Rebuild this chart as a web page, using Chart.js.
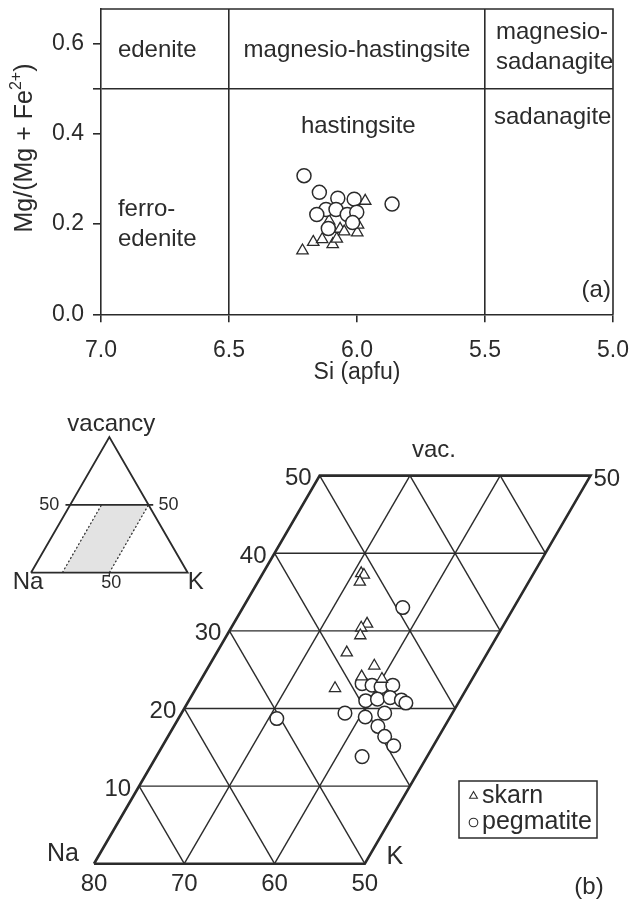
<!DOCTYPE html>
<html><head><meta charset="utf-8">
<script src="https://cdn.jsdelivr.net/npm/chart.js@4/dist/chart.umd.min.js"></script>
<style>
html,body{margin:0;padding:0;background:#fff;}
#wrap{position:relative;width:634px;height:902px;overflow:hidden;}
canvas{position:absolute;}
</style></head><body>
<div id="wrap">
<canvas id="cTop" width="634" height="400" style="left:0;top:0;width:634px;height:400px"></canvas>
<canvas id="cTern" width="634" height="502" style="left:0;top:400px;width:634px;height:502px"></canvas>
<canvas id="cInset" width="220" height="200" style="left:0;top:400px;width:220px;height:200px"></canvas>
</div>
<script>
// ---------------- DATA ----------------
// (a) Si vs Mg/(Mg+Fe2+)
const siTicks = [7.0, 6.5, 6.0, 5.5, 5.0];
const mgTicks = [0.0, 0.2, 0.4, 0.5, 0.6];
const skarnSi = [6.213, 6.171, 6.136, 6.095, 6.079, 6.066, 6.050, 5.999, 5.968, 6.109, 5.996];
const skarnMg = [0.141, 0.160, 0.166, 0.155, 0.167, 0.189, 0.183, 0.181, 0.251, 0.207, 0.198];
const pegSi   = [6.207, 6.147, 6.075, 6.011, 5.863, 6.121, 6.082, 6.157, 6.038, 6.001, 6.017, 6.112];
const pegMg   = [0.307, 0.270, 0.257, 0.255, 0.244, 0.232, 0.232, 0.221, 0.221, 0.226, 0.203, 0.190];
// (b) ternary Na - K - vacancy (K %, vacancy %)
const skarnK   = [30.9, 31.3, 31.3, 34.8, 34.4, 34.8, 34.4, 38.3, 37.6, 40.0, 35.4];
const skarnVac = [37.4, 37.2, 36.3, 30.9, 30.4, 29.4, 27.2, 25.5, 24.1, 23.8, 22.6];
const pegK     = [37.7, 38.1, 39.3, 40.4, 41.6, 39.6, 40.8, 42.1, 43.5, 44.2, 38.1, 40.6, 42.5, 42.6, 44.0, 45.6, 42.8, 30.9];
const pegVac   = [33.0, 23.2, 23.0, 22.8, 23.0, 21.0, 21.2, 21.4, 21.1, 20.7, 19.4, 18.9, 19.4, 17.7, 16.4, 15.2, 13.8, 18.7];
const naTicks  = [80, 70, 60, 50];
const vacTicks = [10, 20, 30, 40, 50];
const kRange   = [20, 50];
const vacRange = [0, 50];

// ---------------- STYLE ----------------
const FONT = '"Liberation Sans", Arial, Helvetica, sans-serif';
const INK = '#2b2b2b';
const H = Math.sqrt(3) / 2;
const tx = (k, v) => k + v / 2;
const ty = v => v * H;
const tp = (k, v) => ({ x: tx(k, v), y: ty(v) });

function txt(ctx, s, x, y, align, size) {
  ctx.font = size + 'px ' + FONT;
  ctx.fillStyle = INK;
  ctx.textAlign = align || 'center';
  ctx.textBaseline = 'middle';
  ctx.fillText(s, x, y);
}

// ---------------- (a) ----------------
const regionLabels = [
  { t: 'edenite', si: 6.934, mg: 0.585, a: 'left' },
  { t: 'magnesio-hastingsite', si: 6.0, mg: 0.585, a: 'center' },
  { t: 'magnesio-', si: 5.457, mg: 0.625, a: 'left' },
  { t: 'sadanagite', si: 5.457, mg: 0.558, a: 'left' },
  { t: 'sadanagite', si: 5.465, mg: 0.435, a: 'left' },
  { t: 'hastingsite', si: 5.995, mg: 0.415, a: 'center' },
  { t: 'ferro-', si: 6.934, mg: 0.233, a: 'left' },
  { t: 'edenite', si: 6.934, mg: 0.165, a: 'left' },
  { t: '(a)', si: 5.008, mg: 0.054, a: 'right' }
];

const topDeco = {
  id: 'topDeco',
  beforeDatasetsDraw(chart) {
    const { ctx, chartArea: ca, scales } = chart;
    ctx.save();
    ctx.strokeStyle = INK; ctx.lineWidth = 1.6;
    ctx.beginPath();
    ctx.moveTo(ca.left, ca.top); ctx.lineTo(ca.right, ca.top); ctx.lineTo(ca.right, ca.bottom);
    ctx.stroke();
    regionLabels.forEach(l => txt(ctx, l.t, scales.x.getPixelForValue(l.si), scales.y.getPixelForValue(l.mg), l.a, 24));
    // x title
    txt(ctx, 'Si (apfu)', (ca.left + ca.right) / 2, 373, 'center', 23);
    // y title with superscript
    ctx.translate(25, 148); ctx.rotate(-Math.PI / 2);
    const a = 'Mg/(Mg + Fe', b = '2+', c = ')';
    ctx.font = '25px ' + FONT; const wa = ctx.measureText(a).width; const wc = ctx.measureText(c).width;
    ctx.font = '16px ' + FONT; const wb = ctx.measureText(b).width;
    const x0 = -(wa + wb + wc) / 2;
    txt(ctx, a, x0, 0, 'left', 25);
    txt(ctx, b, x0 + wa, -8, 'left', 16);
    txt(ctx, c, x0 + wa + wb, 0, 'left', 25);
    ctx.restore();
  }
};

new Chart(document.getElementById('cTop'), {
  type: 'scatter',
  data: {
    datasets: [
      { label: 'pegmatite', data: pegSi.map((s, i) => ({ x: s, y: pegMg[i] })),
        pointStyle: 'circle', pointRadius: 7, pointBackgroundColor: '#fff', pointBorderColor: INK, pointBorderWidth: 1.5 },
      { label: 'skarn', data: skarnSi.map((s, i) => ({ x: s, y: skarnMg[i] })),
        pointStyle: 'triangle', pointRadius: 6.6, pointBackgroundColor: '#fff', pointBorderColor: INK, pointBorderWidth: 1.3 }
    ]
  },
  options: {
    responsive: false, animation: false, events: [],
    layout: { padding: { left: 0, right: 21, top: 9, bottom: 0 } },
    plugins: { legend: { display: false }, tooltip: { enabled: false } },
    scales: {
      x: {
        type: 'linear', reverse: true, min: 5, max: 7,
        afterBuildTicks: s => { s.ticks = siTicks.map(v => ({ value: v })); },
        afterFit: s => { s.height = 85.7; s.paddingLeft = 0; s.paddingRight = 0; s.paddingTop = 0; s.paddingBottom = 0; },
        ticks: { callback: v => Number(v).toFixed(1), font: { family: FONT, size: 23 }, color: INK, padding: 15, maxRotation: 0, autoSkip: false },
        grid: { color: c => (c.tick && (c.tick.value === 6.5 || c.tick.value === 5.5)) ? INK : 'rgba(0,0,0,0)', tickColor: INK, tickLength: 8, lineWidth: 1.6 },
        border: { display: true, color: INK, width: 1.6 }
      },
      y: {
        type: 'linear', min: 0, max: 0.676,
        afterBuildTicks: s => { s.ticks = mgTicks.map(v => ({ value: v })); },
        afterFit: s => { s.width = 101; s.paddingLeft = 0; s.paddingRight = 0; s.paddingTop = 0; s.paddingBottom = 0; },
        ticks: { callback: v => (v === 0.5 ? '' : Number(v).toFixed(1)), font: { family: FONT, size: 23 }, color: INK, padding: 9, autoSkip: false },
        grid: { color: c => (c.tick && c.tick.value === 0.5) ? INK : 'rgba(0,0,0,0)', tickColor: INK, tickLength: 8, lineWidth: 1.6 },
        border: { display: true, color: INK, width: 1.6 }
      }
    }
  },
  plugins: [topDeco]
});

// ---------------- (b) main ternary ----------------
const PX = 9.27;                     // px per % (layout)
const ORX = 88, ORY = 471;          // pixel of (K=20, vac=0) inside canvas
const xMinT = tx(kRange[0], 0) - ORX / PX;
const yMaxT = ORY / PX;

function lineDs(pts, w) {
  return { data: pts, showLine: true, pointRadius: 0, borderColor: INK, borderWidth: w, fill: false, tension: 0, borderJoinStyle: 'miter' };
}
const ternDs = [];
vacTicks.filter(v => v < vacRange[1]).forEach(v => ternDs.push(lineDs([tp(kRange[0], v), tp(kRange[1], v)], 1.4)));
[30, 40].forEach(k => ternDs.push(lineDs([tp(k, vacRange[0]), tp(k, vacRange[1])], 1.4)));
[70, 60, 50, 40, 30, 20, 10].forEach(n => {
  const s = 100 - n;
  const v0 = Math.max(vacRange[0], s - kRange[1]), v1 = Math.min(vacRange[1], s - kRange[0]);
  ternDs.push(lineDs([tp(s - v0, v0), tp(s - v1, v1)], 1.4));
});
ternDs.push(lineDs([tp(20, 0), tp(50, 0), tp(50, 50), tp(20, 50), tp(20, 0)], 2.6));
const ptsDs = [
  { data: skarnK.map((k, i) => tp(k, skarnVac[i])), pointStyle: 'triangle', pointRadius: 6.5,
    pointBackgroundColor: '#fff', pointBorderColor: INK, pointBorderWidth: 1.3, showLine: false },
  { data: pegK.map((k, i) => tp(k, pegVac[i])), pointStyle: 'circle', pointRadius: 6.8,
    pointBackgroundColor: '#fff', pointBorderColor: INK, pointBorderWidth: 1.5, showLine: false }
];

const ternDeco = {
  id: 'ternDeco',
  afterDatasetsDraw(chart) {
    const { ctx, scales } = chart;
    const P = (k, v) => ({ x: scales.x.getPixelForValue(tx(k, v)), y: scales.y.getPixelForValue(ty(v)) });
    ctx.save();
    vacTicks.forEach(v => { const p = P(kRange[0], v); txt(ctx, String(v), p.x - 8, p.y + 3, 'right', 24); });
    const tr = P(kRange[1], vacRange[1]); txt(ctx, '50', tr.x + 3, tr.y + 4, 'left', 24);
    naTicks.forEach(n => { const p = P(100 - n, 0); txt(ctx, String(n), p.x, p.y + 21, 'center', 24); });
    const bl = P(kRange[0], 0), br = P(kRange[1], 0);
    txt(ctx, 'Na', bl.x - 31, bl.y - 10, 'center', 25);
    txt(ctx, 'K', br.x + 30, br.y - 7, 'center', 25);
    txt(ctx, 'vac.', 434, 50, 'center', 24);
    txt(ctx, '(b)', 589, 487, 'center', 24);
    // legend
    ctx.strokeStyle = INK; ctx.lineWidth = 1.5;
    ctx.strokeRect(459, 381, 138, 57);
    ctx.fillStyle = '#fff'; ctx.lineWidth = 1.1;
    const r = 4.5, lx = 473.5, ly1 = 396, ly2 = 422.5;
    ctx.beginPath();
    ctx.moveTo(lx, ly1 - r); ctx.lineTo(lx + r * H, ly1 + r / 2); ctx.lineTo(lx - r * H, ly1 + r / 2); ctx.closePath();
    ctx.fill(); ctx.stroke();
    ctx.beginPath(); ctx.arc(lx, ly2, 4.3, 0, Math.PI * 2); ctx.fill(); ctx.stroke();
    txt(ctx, 'skarn', 482, ly1, 'left', 25);
    txt(ctx, 'pegmatite', 482, ly2, 'left', 25);
    ctx.restore();
  }
};

new Chart(document.getElementById('cTern'), {
  type: 'scatter',
  data: { datasets: [...ptsDs, ...ternDs] },
  options: {
    responsive: false, animation: false, events: [],
    layout: { padding: 0 },
    plugins: { legend: { display: false }, tooltip: { enabled: false } },
    scales: {
      x: { type: 'linear', display: false, min: xMinT, max: xMinT + 634 / PX },
      y: { type: 'linear', display: false, min: yMaxT - 502 / PX, max: yMaxT }
    }
  },
  plugins: [ternDeco]
});

// ---------------- inset triangle ----------------
const PXi = 1.567, IOX = 31, IOY = 172.7;
const ixMin = -IOX / PXi, iyMax = IOY / PXi;
const insetDs = [
  { data: [tp(20, 0), tp(20, 50)], showLine: true, pointRadius: 0, borderColor: INK, borderWidth: 1.2, borderDash: [2, 2] },
  { data: [tp(50, 0), tp(50, 50)], showLine: true, pointRadius: 0, borderColor: INK, borderWidth: 1.2, borderDash: [2, 2] },
  { data: [{ x: tx(0, 50) - 3, y: ty(50) }, { x: tx(50, 50) + 3, y: ty(50) }], showLine: true, pointRadius: 0, borderColor: INK, borderWidth: 1.8 },
  { data: [tp(50, 0), { x: tx(50, 0), y: -2.6 }], showLine: true, pointRadius: 0, borderColor: INK, borderWidth: 1.2 },
  { data: [tp(0, 0), tp(100, 0), tp(0, 100), tp(0, 0)], showLine: true, pointRadius: 0, borderColor: INK, borderWidth: 1.8, borderJoinStyle: 'miter' },
  { data: [tp(20, 0), tp(50, 0), tp(50, 50), tp(20, 50)], showLine: true, pointRadius: 0, borderWidth: 0,
    borderColor: 'rgba(0,0,0,0)', backgroundColor: '#e3e3e3', fill: 'shape' }
];
const insetDeco = {
  id: 'insetDeco',
  afterDatasetsDraw(chart) {
    const { ctx, scales } = chart;
    const P = (k, v) => ({ x: scales.x.getPixelForValue(tx(k, v)), y: scales.y.getPixelForValue(ty(v)) });
    ctx.save();
    const ap = P(0, 100); txt(ctx, 'vacancy', ap.x + 2, ap.y - 13, 'center', 24);
    const l = P(0, 50), r = P(50, 50); txt(ctx, '50', l.x - 21, l.y, 'center', 18); txt(ctx, '50', r.x + 20, r.y, 'center', 18);
    const b = P(50, 0); txt(ctx, '50', b.x + 2, b.y + 10, 'center', 18);
    const na = P(0, 0), k = P(100, 0);
    txt(ctx, 'Na', na.x - 3, na.y + 10, 'center', 24);
    txt(ctx, 'K', k.x + 8, k.y + 10, 'center', 24);
    ctx.restore();
  }
};
new Chart(document.getElementById('cInset'), {
  type: 'scatter',
  data: { datasets: insetDs },
  options: {
    responsive: false, animation: false, events: [],
    layout: { padding: 0 },
    plugins: { legend: { display: false }, tooltip: { enabled: false } },
    scales: {
      x: { type: 'linear', display: false, min: ixMin, max: ixMin + 220 / PXi },
      y: { type: 'linear', display: false, min: iyMax - 200 / PXi, max: iyMax }
    }
  },
  plugins: [insetDeco]
});
</script>
</body></html>
